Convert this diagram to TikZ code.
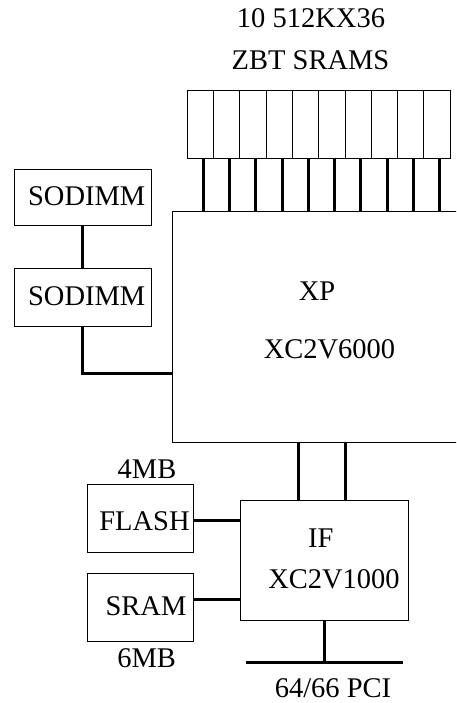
\documentclass[tikz,border=0pt]{standalone}
\usepackage{fontspec}
\setmainfont{Liberation Serif}
\begin{document}
\begin{tikzpicture}[x=1pt,y=-1pt,
  box/.style={draw=black, line width=0.8pt, inner sep=0pt, outer sep=0pt},
  conn/.style={draw=black, line width=3pt},
  lbl/.style={inner sep=0pt, outer sep=0pt, anchor=base, font=\fontsize{28.5}{34}\selectfont}]
\useasboundingbox (0,0) rectangle (456,703);
\clip (0,0) rectangle (456,703);
% SRAM bank
\foreach \i in {1,...,10}{
  \node[box, minimum width=26.27pt, minimum height=68pt] (s\i) at ({187.3+26.27*(\i-0.5)},124) {};
}
% XP
\node[box, minimum width=318pt, minimum height=231pt] (xp) at (331,326.5) {};
% SODIMMs
\node[box, minimum width=137pt, minimum height=56pt] (sod1) at (82.5,197) {};
\node[box, minimum width=137pt, minimum height=58pt] (sod2) at (82.5,297) {};
% IF
\node[box, minimum width=168pt, minimum height=120pt] (ifb) at (324,560) {};
% FLASH, SRAM
\node[box, minimum width=106pt, minimum height=68pt] (flash) at (140,518) {};
\node[box, minimum width=106pt, minimum height=68pt] (sram) at (140,607) {};
% bus
\coordinate (busl) at (246,662);
\coordinate (busr) at (403,662);
% connectors
\foreach \i in {1,...,10}{
  \draw[conn] ([xshift=16pt]s\i.south west) -- ([xshift=16pt]s\i.south west |- xp.north);
}
\draw[conn] (sod1.south) -- (sod2.north);
\draw[conn] (sod2.south) |- ([yshift=-46.5pt]xp.west);
\draw[conn] ([xshift=58pt]ifb.north west) -- ([xshift=58pt]ifb.north west |- xp.south);
\draw[conn] ([xshift=105pt]ifb.north west) -- ([xshift=105pt]ifb.north west |- xp.south);
\draw[conn] ([yshift=-2pt]flash.east) -- ([yshift=-2pt]flash.east -| ifb.west);
\draw[conn] ([yshift=8pt]sram.east) -- ([yshift=8pt]sram.east -| ifb.west);
\draw[conn] (ifb.south) -- (ifb.south |- busl);
\draw[conn] (busl) -- (busr);
% labels
\node[lbl] (t1) at (311,28) {10 512KX36};
\node[lbl] (t2) at (310.5,70) {ZBT SRAMS};
\node[lbl] (sodt1) at (86.7,205.7) {SODIMM};
\node[lbl] (sodt2) at (86.7,305.7) {SODIMM};
\node[lbl] (xpt1) at (317,300) {XP};
\node[lbl] (xpt2) at (329.5,358.3) {XC2V6000};
\node[lbl] (mb4) at (147,478.3) {4MB};
\node[lbl] (flasht) at (144.5,530.7) {FLASH};
\node[lbl] (ift1) at (320.8,547) {IF};
\node[lbl] (ift2) at (334,588) {XC2V1000};
\node[lbl] (sramt) at (146,615) {SRAM};
\node[lbl] (mb6) at (146.7,667) {6MB};
\node[lbl] (pci) at (333,697) {64/66 PCI};
\end{tikzpicture}
\end{document}
